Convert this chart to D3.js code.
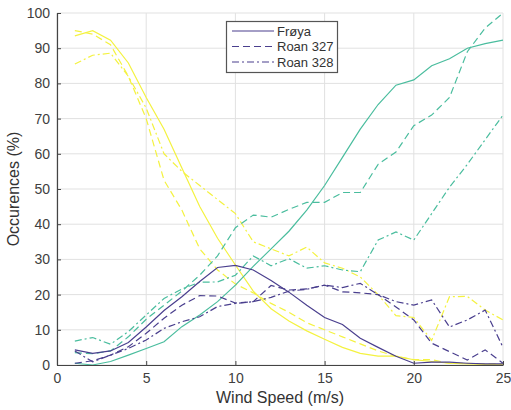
<!DOCTYPE html>
<html><head><meta charset="utf-8">
<script src="https://cdn.jsdelivr.net/npm/d3@7"></script>
<style>
html,body{margin:0;padding:0;background:#fff;}
svg{display:block;font-family:"Liberation Sans",Arial,sans-serif;}
</style></head>
<body>
<svg id="chart" width="511" height="410"></svg>
<script>
const windSpeed = [1,2,3,4,5,6,7,8,9,10,11,12,13,14,15,16,17,18,19,20,21,22,23,24,25];
const xTicks = [0,5,10,15,20,25];
const yTicks = [0,10,20,30,40,50,60,70,80,90,100];
const sites = ["Frøya","Roan 327","Roan 328"];

// purple series
const purpleFroya  = [4.3,3.3,4,6.4,10.8,15.5,19.4,23.7,27.7,28.3,27,24,20.7,17,13.5,11.5,7.6,5,2.5,0.5,0.8,0.8,0.5,0.3,0.3];
const purpleRoan327 = [0.5,1.2,2.8,5.2,9,13.3,17,19.7,19.6,17.6,18,22.6,21.3,21.6,22.7,20.8,20.5,20,16.5,12.8,6.2,3.8,1.4,4.3,0.5];
const purpleRoan328 = [4,0.9,2.8,4.7,7.1,10.4,12.3,13.7,16.6,17.5,18,19.2,21,21.5,22.7,22,23.2,20,18,17,18.5,10.8,12.8,15.6,5];
// teal series
const tealFroya  = [0.5,0,1,2.8,4.7,6.6,10.9,14.2,18,22.7,28,33,38,44,51,59,67,74,79.5,81,85,87,90,91.3,92.3];
const tealRoan327 = [3.5,3.2,4,8,13,17,21,25.5,31,39,42.6,42,44.2,46.2,46.2,49,49,57,60.5,68,71,76,89,95.7,100];
const tealRoan328 = [6.8,7.8,5.9,9.5,14.2,18.9,21.6,23.5,23.6,25.5,31,28.2,30.2,27.5,28.2,27,26.5,35.5,37.8,35.5,43,50.5,57,64,71];
// yellow series
const yellowFroya  = [93.5,95,92.3,85.8,76,67,56,45,36,28.4,21,16,12.5,9.7,7.3,5,3.3,2.5,2.5,1.5,1,0.5,0.3,0.2,0.1];
const yellowRoan327 = [95,94,91,82,70,52.5,44,33,27,23,20.5,17.5,15,12,10,8,6,4,2.5,1.5,1.5,0.5,0.5,0.3,0.3];
const yellowRoan328 = [85.5,88,88.6,82,73,60,55,51,47,43,35,33,31,33.5,29,27.5,25,20,14,13.5,7,19.4,19.5,15.6,12.8];

const colors = {purple:"#4a3f8e", teal:"#4abd9e", yellow:"#f4f240"};
const dashes = {"Frøya":null, "Roan 327":"7,4", "Roan 328":"7,3,2,3"};

const series = [
  {site:"Frøya", color:colors.yellow, values:yellowFroya},
  {site:"Roan 327", color:colors.yellow, values:yellowRoan327},
  {site:"Roan 328", color:colors.yellow, values:yellowRoan328},
  {site:"Frøya", color:colors.teal, values:tealFroya},
  {site:"Roan 327", color:colors.teal, values:tealRoan327},
  {site:"Roan 328", color:colors.teal, values:tealRoan328},
  {site:"Frøya", color:colors.purple, values:purpleFroya},
  {site:"Roan 327", color:colors.purple, values:purpleRoan327},
  {site:"Roan 328", color:colors.purple, values:purpleRoan328}
];

const svg = d3.select("#chart");
const pLeft = 57, pRight = 503, pTop = 13, pBottom = 365;
const x = d3.scaleLinear().domain([0,25]).range([pLeft,pRight]);
const y = d3.scaleLinear().domain([0,100]).range([pBottom,pTop]);

// grid
const grid = svg.append("g");
grid.selectAll("line.v").data(xTicks).join("line")
  .attr("x1",d=>x(d)).attr("x2",d=>x(d)).attr("y1",pTop).attr("y2",pBottom)
  .attr("stroke","#e1e1e1").attr("stroke-width",1);
grid.selectAll("line.h").data(yTicks).join("line")
  .attr("x1",pLeft).attr("x2",pRight).attr("y1",d=>y(d)).attr("y2",d=>y(d))
  .attr("stroke","#e1e1e1").attr("stroke-width",1);

// lines
const line = d3.line().x((d,i)=>x(windSpeed[i])).y(d=>y(d));
svg.append("g").selectAll("path").data(series).join("path")
  .attr("d",d=>line(d.values))
  .attr("fill","none")
  .attr("stroke",d=>d.color)
  .attr("stroke-width",1.2)
  .attr("stroke-dasharray",d=>dashes[d.site]);

// axes
const xAxis = d3.axisBottom(x).tickValues(xTicks).tickSizeInner(-4).tickSizeOuter(0).tickPadding(8);
const yAxis = d3.axisLeft(y).tickValues(yTicks).tickSizeInner(-4).tickSizeOuter(0).tickPadding(7);
const gx = svg.append("g").attr("transform",`translate(0,${pBottom})`).call(xAxis);
const gy = svg.append("g").attr("transform",`translate(${pLeft},0)`).call(yAxis);
[gx,gy].forEach(g=>{
  g.select(".domain").attr("stroke","#444").attr("stroke-width",1.2);
  g.selectAll(".tick line").attr("stroke","#444");
  g.selectAll(".tick text").attr("fill","#404040").attr("font-size",14)
    .attr("font-family","'Liberation Sans',Arial,sans-serif");
});

// axis labels
svg.append("text").attr("x",x(12.5)).attr("y",403).attr("text-anchor","middle")
  .attr("font-size",16).attr("fill","#333").text("Wind Speed (m/s)");
svg.append("text").attr("transform",`translate(19,${y(50)}) rotate(-90)`)
  .attr("text-anchor","middle").attr("font-size",16).attr("fill","#333").text("Occurences (%)");

// legend
const lg = svg.append("g");
lg.append("rect").attr("x",226.5).attr("y",21.5).attr("width",111).attr("height",51)
  .attr("fill","#fff").attr("stroke","#555").attr("stroke-width",1.2);
sites.forEach((s,i)=>{
  const yy = 31 + i*15.5;
  lg.append("line").attr("x1",232).attr("x2",274).attr("y1",yy).attr("y2",yy)
    .attr("stroke",colors.purple).attr("stroke-width",1.1).attr("stroke-dasharray",dashes[s]);
  lg.append("text").attr("x",277).attr("y",yy+4.5).attr("font-size",13).attr("fill","#333").text(s);
});
</script>
</body></html>
